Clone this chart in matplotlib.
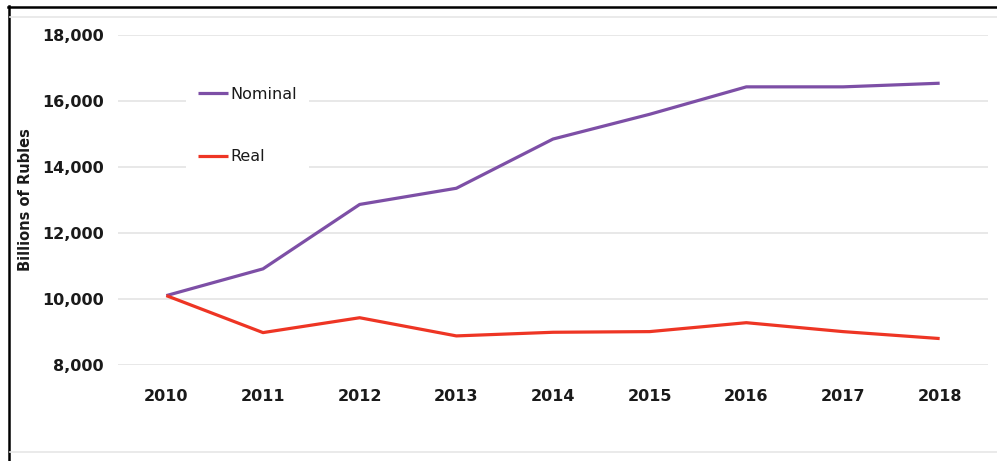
import matplotlib
matplotlib.use("Agg")
import matplotlib.pyplot as plt
from matplotlib.lines import Line2D

# valeurs (milliards de roubles)
years = [2010, 2011, 2012, 2013, 2014, 2015, 2016, 2017, 2018]
nominal = [10110, 10920, 12870, 13360, 14850, 15600, 16430, 16430, 16540]
real = [10110, 8990, 9440, 8890, 9000, 9020, 9290, 9020, 8810]
yticks = [8000, 10000, 12000, 14000, 16000, 18000]

W, H = 997, 461
fig = plt.figure(figsize=(W / 100, H / 100), dpi=100)
plt.rcParams['font.family'] = ['DejaVu Sans']

# axes : 8000 -> y=365, 18000 -> y=35 ; x de 118 a 988
ax = fig.add_axes([118 / W, 1 - 365.3 / H, 870 / W, 330.3 / H])
ax.plot(years, nominal, color='#7d4fa6', lw=2.3, label='Nominal', solid_capstyle='butt')
ax.plot(years, real, color='#ee3524', lw=2.3, label='Real', solid_capstyle='butt')

ax.set_xlim(2009.5, 2018.5)
ax.set_ylim(8000, 18000)
ax.set_xticks(years)
ax.set_yticks(yticks)
ax.set_yticklabels([f"{v:,}" for v in yticks])
ax.grid(axis='y', color='#e4e4e4', lw=1.2)
ax.set_axisbelow(True)
for s in ax.spines.values():
    s.set_visible(False)
ax.tick_params(length=0)
ax.tick_params(axis='y', pad=10, labelsize=11.5)
ax.tick_params(axis='x', pad=17, labelsize=11.5)
for t in ax.get_xticklabels() + ax.get_yticklabels():
    t.set_fontweight('bold')
    t.set_color('#1a1a1a')

fig.text(25 / W, 1 - 200 / H, 'Billions of Rubles', rotation=90, ha='center', va='center',
         fontsize=10.5, fontweight='bold', color='#1a1a1a')

leg = ax.legend(loc='upper left', bbox_to_anchor=(186 / W, 1 - 75 / H),
                bbox_transform=fig.transFigure, frameon=True, fancybox=False,
                facecolor='white', edgecolor='none', framealpha=1,
                fontsize=11.5, handlelength=1.9, handletextpad=0.15,
                labelspacing=2.95, borderpad=0.75, borderaxespad=0)
for t in leg.get_texts():
    t.set_color('#1a1a1a')

# bordure de la capture d'ecran
fig.add_artist(Line2D([8.5 / W, 8.5 / W], [0, 1 - 6 / H], color='black', lw=1.8))
fig.add_artist(Line2D([8 / W, 1], [1 - 7 / H, 1 - 7 / H], color='black', lw=1.8))
fig.add_artist(Line2D([10 / W, 1], [1 - 17 / H, 1 - 17 / H], color='#e6e6e6', lw=1.2))
fig.add_artist(Line2D([10 / W, 1], [1 - 452 / H, 1 - 452 / H], color='#e6e6e6', lw=1.2))

fig.savefig('out.png', dpi=100, facecolor='white')
